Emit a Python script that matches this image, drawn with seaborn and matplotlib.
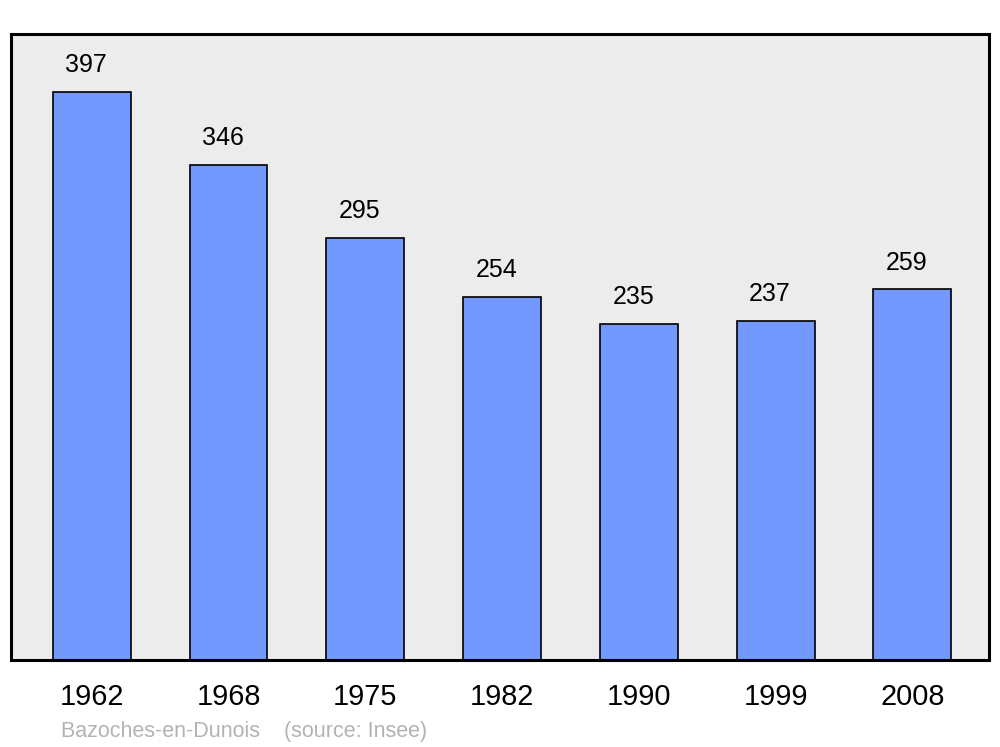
import matplotlib
matplotlib.use('Agg')
import matplotlib.pyplot as plt
import seaborn as sns
import pandas as pd

# Données — population de Bazoches-en-Dunois
annees = ['1962', '1968', '1975', '1982', '1990', '1999', '2008']
population = [397, 346, 295, 254, 235, 237, 259]

sns.set_theme(style='white')
plt.rcParams['font.family'] = ['Liberation Sans', 'DejaVu Sans']

df = pd.DataFrame({'annee': annees, 'pop': population})

fig = plt.figure(figsize=(10, 7.47), dpi=100)
ax = fig.add_axes([0.011, 0.1165, 0.978, 0.838])
ax.set_facecolor('#ececec')

sns.barplot(data=df, x='annee', y='pop', color='#7399ff', saturation=1,
            width=0.57, edgecolor='black', linewidth=1.2, ax=ax)

for i, v in enumerate(population):
    ax.annotate(str(v), (i, v), xytext=(-4, 14), textcoords='offset points',
                ha='center', va='baseline', fontsize=18, color='black')

ax.set_xlim(-0.59, 6.56)
ax.set_ylim(0, 437.5)
ax.set_yticks([])
ax.set_xlabel('')
ax.set_ylabel('')
ax.tick_params(axis='x', length=0, pad=16.5, labelsize=20.8, labelcolor='black')
for s in ax.spines.values():
    s.set_color('black')
    s.set_linewidth(2.2)

fig.text(0.061, 0.0134, 'Bazoches-en-Dunois    (source: Insee)', color='#b3b3b3',
         fontsize=15.5, ha='left', va='baseline')

fig.savefig('out.png', dpi=100, facecolor='white')
